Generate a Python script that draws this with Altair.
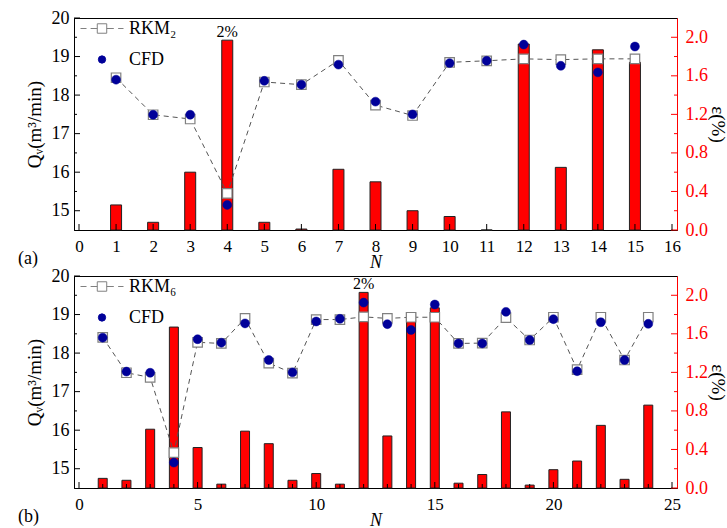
import altair as alt
import pandas as pd

# ---------------- data ----------------
top_n = list(range(1, 16))
top_eps = [0.26, 0.08, 0.60, 1.97, 0.08, 0.01, 0.63, 0.50, 0.20, 0.14, 0.00, 1.93, 0.65, 1.87, 1.74]
top_rkm = [18.45, 17.49, 17.38, 15.45, 18.34, 18.27, 18.90, 17.74, 17.47, 18.85, 18.89, 18.94, 18.92, 18.94, 18.94]
top_cfd = [18.40, 17.49, 17.49, 15.15, 18.37, 18.27, 18.79, 17.83, 17.50, 18.83, 18.89, 19.31, 18.76, 18.59, 19.26]

bot_n = list(range(1, 25))
bot_eps = [0.10, 0.08, 0.61, 1.67, 0.42, 0.04, 0.59, 0.46, 0.08, 0.15, 0.04, 2.03,
           0.54, 1.82, 1.87, 0.05, 0.14, 0.79, 0.03, 0.19, 0.28, 0.65, 0.09, 0.86]
bot_rkm = [18.41, 17.49, 17.37, 15.42, 18.28, 18.25, 18.90, 17.74, 17.48, 18.87, 18.87, 18.94,
           18.90, 18.93, 18.93, 18.25, 18.26, 18.92, 18.34, 18.93, 17.57, 18.93, 17.82, 18.93]
bot_cfd = [18.40, 17.52, 17.49, 15.16, 18.36, 18.27, 18.77, 17.82, 17.50, 18.82, 18.89, 19.31,
           18.75, 18.60, 19.26, 18.25, 18.25, 19.07, 18.34, 18.88, 17.53, 18.80, 17.82, 18.76]

top_anno_n, top_anno_eps = [4], [1.97]
bot_anno_n, bot_anno_eps = [12], [2.03]
anno_text = ["2%"]

top_names = ["RKM\u2082", "CFD"]
bot_names = ["RKM\u2086", "CFD"]

# tick positions / labels
top_xlabels = list(range(0, 17))
top_xticks_major = list(range(0, 17))
top_xticks_minor = []
bot_xlabels = [0, 5, 10, 15, 20, 25]
bot_xticks_major = [0, 5, 10, 15, 20, 25]
bot_xticks_minor = [i for i in range(1, 25) if i % 5]
q_labels = [15, 16, 17, 18, 19, 20]
q_minor = [15.5, 16.5, 17.5, 18.5, 19.5]
eps_labels = [0.0, 0.4, 0.8, 1.2, 1.6, 2.0]
eps_minor = [0.2, 0.6, 1.0, 1.4, 1.8]

# ---------------- style ----------------
W, H = 603, 212
FONT = "Liberation Serif"
RED = "#FF0000"
NAVY = "#000099"
GRAY = "#808080"
LEG_PATH = ("M-1,0H-0.72M-0.53,0H-0.22M-0.22,-0.22H0.22V0.22H-0.22Z"
            "M0.22,0H0.55M0.75,0H1")
Q_DOM = [14.5, 20]
E_DOM = [0, 2.2]


def qy(field, axis=None):
    return alt.Y(field, scale=alt.Scale(domain=Q_DOM, nice=False, zero=False), axis=axis)


def ey(field, axis=None):
    return alt.Y(field, scale=alt.Scale(domain=E_DOM, nice=False, zero=True), axis=axis)


def panel(n, eps, rkm, cfd, names, xmax, xlabels, xmaj, xmin, anno_n, anno_eps, tag, barsize):
    bars_df = pd.DataFrame({"N": n, "eps": eps})
    rkm_df = pd.DataFrame({"N": n, "Q": rkm})
    cfd_df = pd.DataFrame({"N": n, "Q": cfd})
    anno_df = pd.DataFrame({"N": anno_n, "eps": anno_eps, "label": anno_text})
    leg_df = pd.DataFrame({"series": names, "N": [0, 0], "Q": [15.0, 15.0]})

    x_axis = alt.Axis(values=xlabels, format="d", title="N", titleFontStyle="italic",
                      ticks=False, domainColor="black", labelPadding=8, labelFontSize=17,
                      titleFontSize=18, titleY=37, titleBaseline="alphabetic", labelFlush=False,
                      labelOverlap=False)
    x_scale = alt.Scale(domain=[0, xmax], nice=False, zero=True)

    def xx(field):
        return alt.X(field, scale=x_scale, axis=x_axis)

    bars = alt.Chart(bars_df).mark_bar(size=barsize, fill=RED, stroke="#222222", strokeWidth=1).encode(
        x=xx("N:Q"),
        y=ey("eps:Q", alt.Axis(orient="right", values=eps_labels, format=".1f", title="\u03b5(%)",
                               ticks=False, domainColor=RED, labelColor=RED, labelPadding=8,
                               titleX=40, titleBaseline="middle", labelFlush=False)),
    )
    eps_t1 = alt.Chart(pd.DataFrame({"v": eps_labels})).mark_rule(color=RED, strokeWidth=1).encode(
        y=ey("v:Q"), x=alt.value(W - 6), x2=alt.value(W))
    eps_t2 = alt.Chart(pd.DataFrame({"v": eps_minor})).mark_rule(color=RED, strokeWidth=1).encode(
        y=ey("v:Q"), x=alt.value(W - 3), x2=alt.value(W))
    x_t1 = alt.Chart(pd.DataFrame({"t": xmaj})).mark_rule(color="black", strokeWidth=1).encode(
        x=xx("t:Q"), y=alt.value(H), y2=alt.value(H - 6))
    layers = [bars, eps_t1, eps_t2, x_t1]
    if xmin:
        x_t2 = alt.Chart(pd.DataFrame({"t": xmin})).mark_rule(color="black", strokeWidth=1).encode(
            x=xx("t:Q"), y=alt.value(H), y2=alt.value(H - 4))
        layers.append(x_t2)

    line = alt.Chart(rkm_df).mark_line(color="#555555", strokeDash=[5, 4], strokeWidth=1).encode(
        x=xx("N:Q"),
        y=qy("Q:Q", alt.Axis(orient="left", values=q_labels, format="d",
                             title="Q\u1d65(m\u00b3/min)", ticks=False, domainColor="black",
                             labelPadding=5, titleX=-40, titleBaseline="middle",
                             labelFlush=False)),
    )
    sq = alt.Chart(rkm_df).mark_point(shape="square", filled=True, fill="white", stroke=GRAY,
                                      strokeWidth=1.2, size=90, opacity=1).encode(
        x=xx("N:Q"), y=qy("Q:Q"))
    circ = alt.Chart(cfd_df).mark_point(shape="circle", filled=True, fill=NAVY, stroke=NAVY,
                                        strokeWidth=0.5, size=80, opacity=1).encode(
        x=xx("N:Q"), y=qy("Q:Q"))
    q_t1 = alt.Chart(pd.DataFrame({"v": q_labels})).mark_rule(color="black", strokeWidth=1).encode(
        y=qy("v:Q"), x=alt.value(0), x2=alt.value(6))
    q_t2 = alt.Chart(pd.DataFrame({"v": q_minor})).mark_rule(color="black", strokeWidth=1).encode(
        y=qy("v:Q"), x=alt.value(0), x2=alt.value(3))
    anno = alt.Chart(anno_df).mark_text(font=FONT, fontSize=16, baseline="alphabetic", dy=-3,
                                        color="black").encode(
        x=xx("N:Q"), y=ey("eps:Q"), text="label:N")

    leg = alt.Legend(title=None, orient="none", legendX=6, legendY=2, direction="vertical",
                     padding=0, symbolOpacity=1, clipHeight=17, rowPadding=12, labelOffset=5,
                     labelFont=FONT, labelFontSize=18, labelColor="black", symbolStrokeWidth=1)
    leg_layer = alt.Chart(leg_df).transform_filter("false").mark_point(filled=True, opacity=1).encode(
        x=xx("N:Q"), y=qy("Q:Q"),
        shape=alt.Shape("series:N", scale=alt.Scale(domain=names, range=[LEG_PATH, "circle"]), legend=leg),
        size=alt.Size("series:N", scale=alt.Scale(domain=names, range=[1849, 53]), legend=leg),
        fill=alt.Fill("series:N", scale=alt.Scale(domain=names, range=["white", NAVY]), legend=leg),
        stroke=alt.Stroke("series:N", scale=alt.Scale(domain=names, range=[GRAY, NAVY]), legend=leg),
    )
    layers += [line, sq, circ, q_t1, q_t2, anno, leg_layer]

    return alt.layer(*layers).resolve_scale(y="independent").properties(
        width=W, height=H,
        title=alt.TitleParams(text=tag, orient="bottom", anchor="start", frame="group",
                              dx=-56, dy=-21, offset=0, font=FONT, fontSize=18,
                              fontWeight="normal", color="black"),
    )


top = panel(top_n, top_eps, top_rkm, top_cfd, top_names, 16, top_xlabels, top_xticks_major,
            top_xticks_minor, top_anno_n, top_anno_eps, "(a)", 11)
bot = panel(bot_n, bot_eps, bot_rkm, bot_cfd, bot_names, 25, bot_xlabels, bot_xticks_major,
            bot_xticks_minor, bot_anno_n, bot_anno_eps, "(b)", 9)

chart = alt.vconcat(top, bot, spacing=46, bounds="flush").resolve_scale(
    shape="independent", size="independent", fill="independent", stroke="independent"
).resolve_legend(
    shape="independent", size="independent", fill="independent", stroke="independent"
).properties(
    padding={"left": 17, "top": 8, "right": 0, "bottom": 0},
).configure_view(stroke="black", strokeWidth=1).configure_axis(
    grid=False, labelFont=FONT, titleFont=FONT, labelFontSize=18, titleFontSize=19,
    titleFontWeight="normal", labelColor="black", titleColor="black",
).configure_axisRight(labelColor=RED)

chart.save("out.html", embed_options={"renderer": "svg", "actions": False})
